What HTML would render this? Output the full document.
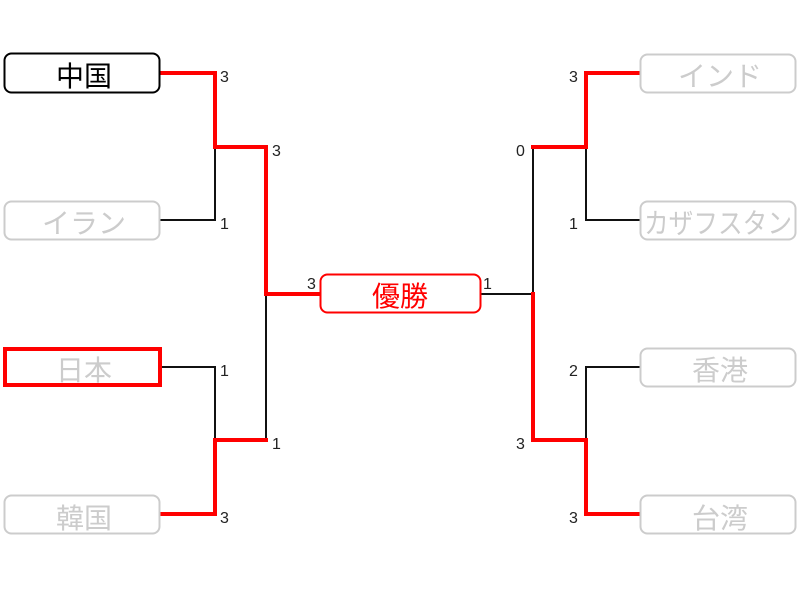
<!DOCTYPE html>
<html><head><meta charset="utf-8"><style>
html,body{margin:0;padding:0;background:#fff;}
svg{display:block;}
text{font-family:"Liberation Sans","Noto Sans CJK JP",sans-serif;}
.n{font-size:28px;text-anchor:middle;fill:#ccc;}
.s{font-size:16px;fill:#222;}
</style></head><body>
<svg width="800" height="600" viewBox="0 0 800 600" xmlns="http://www.w3.org/2000/svg">
<g fill="none" stroke-linecap="square">
<g stroke="#111" stroke-width="2">
<path d="M160 220 H215 V147"/>
<path d="M160 367 H215 V440"/>
<path d="M266 294 V440"/>
<path d="M640 220 H586 V147"/>
<path d="M640 367 H586 V440"/>
<path d="M533 147 V294 H481"/>
</g>
<g stroke="#f00" stroke-width="4">
<path d="M160 73 H215 V147 H266 V294 H320"/>
<path d="M160 514 H215 V440 H266"/>
<path d="M640 73 H586 V147 H533"/>
<path d="M640 514 H586 V440 H533 V294"/>
</g>
<rect x="4.5" y="53.5" width="155" height="39" rx="7" stroke="#000" stroke-width="2" fill="#fff"/>
<rect x="4.5" y="201.5" width="155" height="38" rx="7" stroke="#ccc" stroke-width="2" fill="#fff"/>
<rect x="5" y="349" width="155" height="36" stroke="#f00" stroke-width="4" fill="#fff"/>
<rect x="4.5" y="495.5" width="155" height="38" rx="7" stroke="#ccc" stroke-width="2" fill="#fff"/>
<rect x="640.5" y="54.5" width="155" height="38" rx="7" stroke="#ccc" stroke-width="2" fill="#fff"/>
<rect x="640.5" y="201.5" width="155" height="38" rx="7" stroke="#ccc" stroke-width="2" fill="#fff"/>
<rect x="640.5" y="348.5" width="155" height="38" rx="7" stroke="#ccc" stroke-width="2" fill="#fff"/>
<rect x="640.5" y="495.5" width="155" height="38" rx="7" stroke="#ccc" stroke-width="2" fill="#fff"/>
<rect x="320.5" y="274.5" width="160" height="38" rx="7" stroke="#f00" stroke-width="2" fill="#fff"/>
</g>
<text class="n" x="84" y="86" style="fill:#000">中国</text>
<text class="n" x="84" y="233">イラン</text>
<text class="n" x="84" y="380">日本</text>
<text class="n" x="84" y="528">韓国</text>
<text class="n" x="720" y="86">インド</text>
<text class="n" x="718" y="233" textLength="148" lengthAdjust="spacingAndGlyphs">カザフスタン</text>
<text class="n" x="720" y="380">香港</text>
<text class="n" x="720" y="528">台湾</text>
<text class="n" x="400" y="306" style="fill:#f00">優勝</text>
<text class="s" x="220" y="82">3</text>
<text class="s" x="220" y="229">1</text>
<text class="s" x="220" y="376">1</text>
<text class="s" x="220" y="523">3</text>
<text class="s" x="272" y="156">3</text>
<text class="s" x="272" y="449">1</text>
<text class="s" x="307" y="289">3</text>
<text class="s" x="483" y="289">1</text>
<text class="s" x="569" y="82">3</text>
<text class="s" x="569" y="229">1</text>
<text class="s" x="569" y="376">2</text>
<text class="s" x="569" y="523">3</text>
<text class="s" x="516" y="156">0</text>
<text class="s" x="516" y="449">3</text>
</svg>
</body></html>
